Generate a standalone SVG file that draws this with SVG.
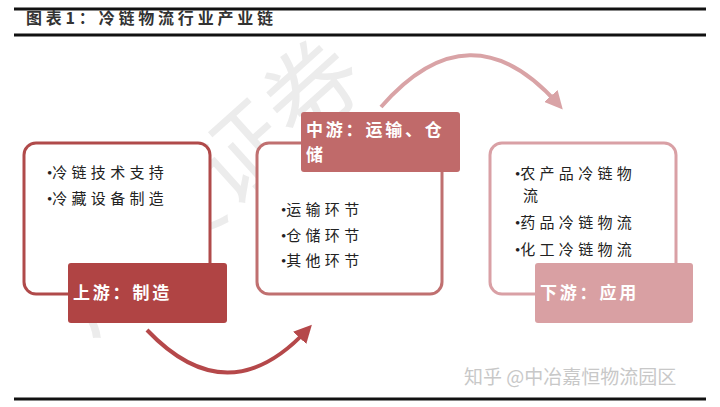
<svg xmlns="http://www.w3.org/2000/svg" width="720" height="407" viewBox="0 0 720 407">
<defs>
<style>
.t{font-family:"Noto Sans CJK SC","Noto Sans",sans-serif;}
.title{font-size:16px;font-weight:bold;fill:#333;letter-spacing:3.8px;}
.bul{font-size:15px;fill:#222;letter-spacing:4.3px;}
.dot{font-family:"Liberation Serif",serif;letter-spacing:0;}
.lab{font-size:17px;font-weight:bold;fill:#fff;letter-spacing:2.8px;}
.wm{font-size:95px;fill:#ececec;}
</style>
<marker id="ah1" viewBox="0 0 10 10" refX="6" refY="5" markerWidth="4.5" markerHeight="4.5" orient="auto"><path d="M0,0 L10,5 L0,10 Z" fill="#B5484A"/></marker>
<marker id="ah2" viewBox="0 0 10 10" refX="6" refY="5" markerWidth="4.5" markerHeight="4.5" orient="auto"><path d="M0,0 L10,5 L0,10 Z" fill="#D9A3A6"/></marker>
</defs>
<rect width="720" height="407" fill="#fff"/>
<g id="watermark">
<text class="t wm" x="0" y="0" transform="translate(88,338) rotate(-42)">广发证券</text>
</g>
<g id="header">
<line x1="14" y1="9" x2="706" y2="9" stroke="#111" stroke-width="3"/>
<text class="t title" x="26" y="24">图表1：冷链物流行业产业链</text>
<line x1="14" y1="35" x2="706" y2="35" stroke="#111" stroke-width="3"/>
<line x1="14" y1="399" x2="706" y2="399" stroke="#111" stroke-width="3"/>
</g>
<g id="connectors" fill="none">
<path d="M147,330 Q228,415 307,330" stroke="#B5484A" stroke-width="4" marker-end="url(#ah1)"/>
<path d="M381,107 Q470,5 558,104" stroke="#D9A3A6" stroke-width="4" marker-end="url(#ah2)"/>
</g>
<g id="upstream">
<rect x="24" y="143" width="186" height="151" rx="12" fill="#fff" stroke="#B04A4A" stroke-width="3"/>
<text class="t bul" x="47" y="178"><tspan class="dot">•</tspan>冷链技术支持</text>
<text class="t bul" x="47" y="204"><tspan class="dot">•</tspan>冷藏设备制造</text>
<rect x="68" y="263" width="159" height="60" rx="3" fill="#B04444"/>
<text class="t lab" x="73" y="299">上游：制造</text>
</g>
<g id="midstream">
<rect x="257" y="143" width="185" height="151" rx="12" fill="#fff" stroke="#C07070" stroke-width="3"/>
<rect x="301" y="112" width="159" height="60" rx="3" fill="#C06A6A"/>
<text class="t lab" x="306" y="136">中游：运输、仓</text>
<text class="t lab" x="306" y="161">储</text>
<text class="t bul" x="281" y="215"><tspan class="dot">•</tspan>运输环节</text>
<text class="t bul" x="281" y="241"><tspan class="dot">•</tspan>仓储环节</text>
<text class="t bul" x="281" y="266"><tspan class="dot">•</tspan>其他环节</text>
</g>
<g id="downstream">
<rect x="490" y="143" width="186" height="151" rx="12" fill="#fff" stroke="#D9A0A5" stroke-width="3"/>
<text class="t bul" x="515" y="179"><tspan class="dot">•</tspan>农产品冷链物</text>
<text class="t bul" x="523" y="201">流</text>
<text class="t bul" x="515" y="228"><tspan class="dot">•</tspan>药品冷链物流</text>
<text class="t bul" x="515" y="255"><tspan class="dot">•</tspan>化工冷链物流</text>
<rect x="535" y="263" width="158" height="60" rx="3" fill="#D9A0A3"/>
<text class="t lab" x="540" y="299">下游：应用</text>
</g>
<g id="credit">
<text class="t" x="464" y="384" font-size="19" fill="#c8c8c8">知乎 @中冶嘉恒物流园区</text>
</g>
</svg>
